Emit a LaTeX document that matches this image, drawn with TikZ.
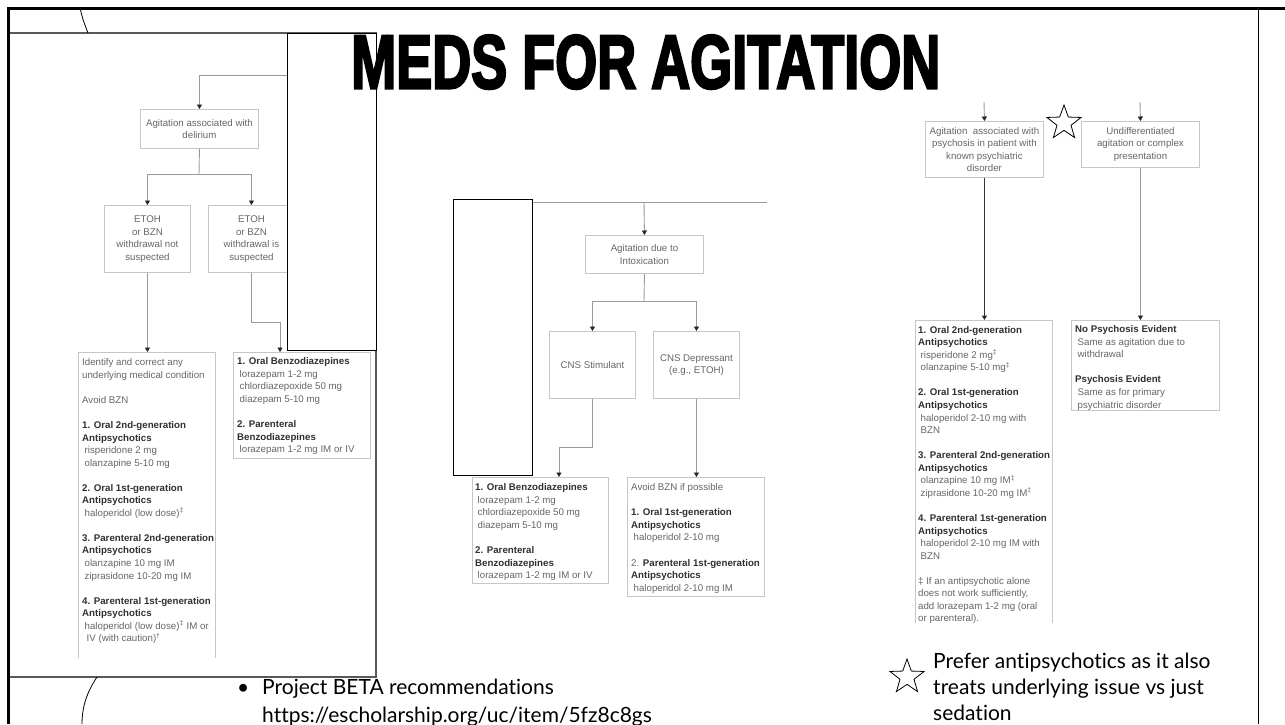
\documentclass[tikz,border=0pt]{standalone}
\usepackage{fontspec}
\usepackage{graphicx}
\setmainfont{Liberation Sans}
\newfontfamily\slidefont[Ligatures=NoCommon]{Lato}
\newfontfamily\titlefont[FakeBold=3.5]{Liberation Sans}
\usetikzlibrary{arrows.meta,shapes.geometric}
\definecolor{boxgray}{HTML}{C6C6C6}
\definecolor{linegray}{HTML}{9A9A9A}
\definecolor{txtgray}{HTML}{666666}
\definecolor{hdgray}{HTML}{303030}
\newcommand{\fhd}[1]{{\bfseries\color{hdgray}#1}}
\newcommand{\find}{\hspace*{2.5pt}}
\newcommand{\fdag}[1]{\textsuperscript{#1}}
\begin{document}
\begin{tikzpicture}[x=1pt,y=-1pt,
  fbox/.style={draw=boxgray, line width=0.9pt, inner sep=0pt, anchor=north west, align=center,
    font=\fontsize{9.7}{12.55}\selectfont, text=txtgray},
  obox/.style={inner sep=0pt, anchor=north west},
  ftxt/.style={inner sep=0pt, anchor=north west, align=left,
    font=\fontsize{9.7}{12.55}\selectfont, text=txtgray},
  conn/.style={draw=linegray, line width=0.9pt},
  arr/.style={conn, -{Triangle[length=4.5pt,width=5pt,color=black!85]}},
  darr/.style={draw=black!80, line width=1.1pt, -{Triangle[length=4.5pt,width=5pt,color=black!85]}},
  ovl/.style={draw=black, line width=0.9pt, fill=white, inner sep=0pt, anchor=north west},
  slide/.style={inner sep=0pt, anchor=base west, font=\slidefont\fontsize{21}{26}\selectfont, text=black},
  starshape/.style={star, star points=5, star point ratio=2.45, draw=black, line width=0.8pt, inner sep=0pt, minimum size=36pt}
]
\useasboundingbox (0,0) rectangle (1285,724);
\fill[white] (0,0) rectangle (1285,724);

% ---------------- left screenshot panel ----------------
\draw[draw=black!65, line width=1.2pt] (8,33) rectangle (376,677);

\node[fbox, minimum width=118pt, minimum height=39pt] (del) at (140,109) {Agitation associated with\\delirium};
\node[fbox, minimum width=86pt, minimum height=67pt] (ns) at (104,205) {ETOH\\or BZN\\withdrawal not\\suspected};
\node[fbox, minimum width=86pt, minimum height=67pt] (ws) at (208,205) {ETOH\\or BZN\\withdrawal is\\suspected};
\node[obox, minimum width=137pt, minimum height=306pt] (idb) at (78,352) {};
\draw[draw=boxgray, line width=0.9pt] (idb.south west) -- (idb.north west) -- (idb.north east) -- (idb.south east);
\node[fbox, minimum width=137pt, minimum height=106pt] (ob) at (233,352) {};

\node[ftxt] (tid) at (82,358.5) {Identify and correct any\\
underlying medical condition\\[12.55pt]
Avoid BZN\\[12.55pt]
\fhd{1. Oral 2nd-generation}\\
\fhd{Antipsychotics}\\
\find risperidone 2 mg\\
\find olanzapine 5-10 mg\\[12.55pt]
\fhd{2. Oral 1st-generation}\\
\fhd{Antipsychotics}\\
\find haloperidol (low dose)\fdag{‡}\\[12.55pt]
\fhd{3. Parenteral 2nd-generation}\\
\fhd{Antipsychotics}\\
\find olanzapine 10 mg IM\\
\find ziprasidone 10-20 mg IM\\[12.55pt]
\fhd{4. Parenteral 1st-generation}\\
\fhd{Antipsychotics}\\
\find haloperidol (low dose)\fdag{‡} IM or\\
\hspace*{4.5pt}IV (with caution)\fdag{†}};

\node[ftxt] (tob) at (237,357.5) {\fhd{1. Oral Benzodiazepines}\\
\find lorazepam 1-2 mg\\
\find chlordiazepoxide 50 mg\\
\find diazepam 5-10 mg\\[12.55pt]
\fhd{2. Parenteral}\\
\fhd{Benzodiazepines}\\
\find lorazepam 1-2 mg IM or IV};

\coordinate (l0) at (287,75);
\coordinate (dj) at (199,174);
\coordinate (wsj) at (280,322);
\draw[arr] (l0) -| (del.north);
\draw[conn] (del.south) -- (dj);
\draw[arr] (dj) -| (ns.north);
\draw[arr] (dj) -| (ws.north);
\draw[arr] (ns.south) -- (ns.south |- idb.north);
\draw[arr] (ws.south) |- (wsj) -- (wsj |- ob.north);

\node[ovl, minimum width=89pt, minimum height=317pt] (ov1) at (287,33) {};

% ---------------- middle screenshot ----------------
\node[fbox, minimum width=118pt, minimum height=38pt] (intox) at (585,235) {Agitation due to\\Intoxication};
\node[fbox, minimum width=86pt, minimum height=67pt] (stim) at (549,331) {CNS Stimulant};
\node[fbox, minimum width=86pt, minimum height=67pt] (dep) at (653,331) {CNS Depressant\\(e.g., ETOH)};
\node[fbox, minimum width=136pt, minimum height=106pt] (mob) at (472,477) {};
\node[fbox, minimum width=137pt, minimum height=119pt] (av) at (627,477) {};

\node[ftxt] (tmob) at (475,483.5) {\fhd{1. Oral Benzodiazepines}\\
\find lorazepam 1-2 mg\\
\find chlordiazepoxide 50 mg\\
\find diazepam 5-10 mg\\[12.55pt]
\fhd{2. Parenteral}\\
\fhd{Benzodiazepines}\\
\find lorazepam 1-2 mg IM or IV};

\node[ftxt] (tav) at (631,483.5) {Avoid BZN if possible\\[12.55pt]
\fhd{1. Oral 1st-generation}\\
\fhd{Antipsychotics}\\
\find haloperidol 2-10 mg\\[12.55pt]
2. \fhd{Parenteral 1st-generation}\\
\fhd{Antipsychotics}\\
\find haloperidol 2-10 mg IM};

\coordinate (m0) at (532,202);
\coordinate (m1) at (767,202);
\coordinate (mj) at (644,202);
\coordinate (ij) at (644,301);
\coordinate (sj) at (559,447);
\draw[conn] (m0) -- (m1);
\draw[arr] (mj) -- (intox.north);
\draw[conn] (intox.south) -- (ij);
\draw[arr] (ij) -| (stim.north);
\draw[arr] (ij) -| (dep.north);
\draw[arr] (stim.south) |- (sj) -- (sj |- mob.north);
\draw[arr] (dep.south) -- (dep.south |- av.north);

\node[ovl, minimum width=79pt, minimum height=276pt] (ov2) at (453,199) {};

% ---------------- right screenshot ----------------
\node[fbox, minimum width=118pt, minimum height=56pt] (psy) at (925,121) {Agitation\ \ associated with\\psychosis in patient with\\known psychiatric\\disorder};
\node[fbox, minimum width=118pt, minimum height=46pt] (und) at (1081,121) {Undifferentiated\\agitation or complex\\presentation};
\node[obox, minimum width=137pt, minimum height=303pt] (b1) at (915,320) {};
\draw[draw=boxgray, line width=0.9pt] (b1.south west) -- (b1.north west) -- (b1.north east) -- (b1.south east);
\node[fbox, minimum width=148pt, minimum height=90pt] (np) at (1071,320) {};

\node[ftxt] (tb1) at (918,326) {\fhd{1. Oral 2nd-generation}\\
\fhd{Antipsychotics}\\
\find risperidone 2 mg\fdag{‡}\\
\find olanzapine 5-10 mg\fdag{‡}\\[12.55pt]
\fhd{2. Oral 1st-generation}\\
\fhd{Antipsychotics}\\
\find haloperidol 2-10 mg with\\
\find BZN\\[12.55pt]
\fhd{3. Parenteral 2nd-generation}\\
\fhd{Antipsychotics}\\
\find olanzapine 10 mg IM\fdag{‡}\\
\find ziprasidone 10-20 mg IM\fdag{‡}\\[12.55pt]
\fhd{4. Parenteral 1st-generation}\\
\fhd{Antipsychotics}\\
\find haloperidol 2-10 mg IM with\\
\find BZN\\[12.55pt]
‡ If an antipsychotic alone\\
does not work sufficiently,\\
add lorazepam 1-2 mg (oral\\
or parenteral).};

\node[ftxt] (tnp) at (1075,325.5) {\fhd{No Psychosis Evident}\\
\find Same as agitation due to\\
\find withdrawal\\[12.55pt]
\fhd{Psychosis Evident}\\
\find Same as for primary\\
\find psychiatric disorder};

\coordinate (ra) at (984,102);
\coordinate (rb) at (1140,102);
\draw[arr] (ra) -- (psy.north);
\draw[arr] (rb) -- (und.north);
\draw[darr] (psy.south) -- (psy.south |- b1.north);
\draw[arr] (und.south) -- (und.south |- np.north);

\node[starshape] (star1) at (1064,123) {};

% ---------------- slide frame ----------------
\draw[line width=3pt] (8.5,724) -- (8.5,8.5) -- (1285,8.5);
\draw[line width=1pt] (1258,8) -- (1258,724);
\draw[line width=0.8pt] (80,8) .. controls (83,20) .. (88,33);
\draw[line width=0.8pt] (97,677) .. controls (85,695) and (82,710) .. (82,724);

% ---------------- title ----------------
\node[inner sep=0pt, anchor=north west] (title) at (351,35) {\resizebox{589pt}{53pt}{\titlefont\bfseries MEDS FOR AGITATION}};

% ---------------- slide texts ----------------
\node[slide] (bul) at (237,694) {\textbullet};
\node[slide] (src1) at (262,694) {Project BETA recommendations};
\node[slide] (src2) at (262,722) {https://escholarship.org/uc/item/5fz8c8gs};

\node[starshape] (star2) at (907,677) {};
\node[slide] (note1) at (933,668) {Prefer antipsychotics as it also};
\node[slide] (note2) at (933,694) {treats underlying issue vs just};
\node[slide] (note3) at (933,720) {sedation};
\end{tikzpicture}
\end{document}
